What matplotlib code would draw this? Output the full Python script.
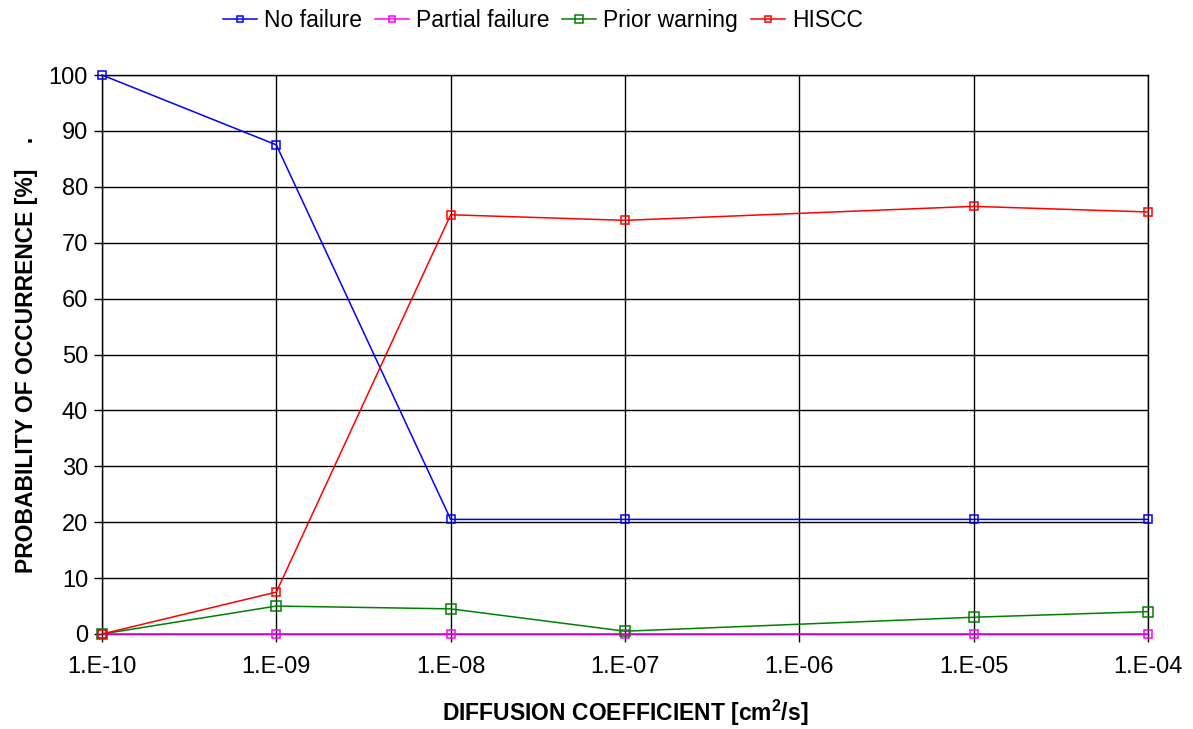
import matplotlib
matplotlib.use("Agg")
import matplotlib.pyplot as plt

plt.rcParams['font.family'] = ['Liberation Sans', 'DejaVu Sans']

x_values = [1e-10, 1e-9, 1e-8, 1e-7, 1e-5, 1e-4]
no_failure = [100, 87.5, 20.5, 20.5, 20.5, 20.5]
partial_failure = [0, 0, 0, 0, 0, 0]
prior_warning = [0, 5, 4.5, 0.5, 3, 4]
hiscc = [0, 7.5, 75, 74, 76.5, 75.5]
x_ticks = [1e-10, 1e-9, 1e-8, 1e-7, 1e-6, 1e-5, 1e-4]
x_tick_labels = ["1.E-10", "1.E-09", "1.E-08", "1.E-07", "1.E-06", "1.E-05", "1.E-04"]
y_ticks = list(range(0, 101, 10))

fig = plt.figure(figsize=(11.93, 7.29), dpi=100)
ax = fig.add_axes([102/1193, 1-634/729, (1148-102)/1193, (634-75)/729])

series = [
    ("No failure", no_failure, "#0000FF", 6),
    ("Partial failure", partial_failure, "#FF00FF", 6),
    ("Prior warning", prior_warning, "#008000", 7.5),
    ("HISCC", hiscc, "#FF0000", 6),
]
for name, vals, col, ms in series:
    ax.plot(x_values, vals, color=col, lw=1.1, marker='s', ms=ms,
            mfc='none', mec=col, mew=1.1, label=name, clip_on=False, zorder=3)

ax.set_xscale('log')
ax.set_xlim(1e-10, 1e-4)
ax.set_ylim(0, 100)
ax.set_xticks(x_ticks)
ax.set_xticklabels(x_tick_labels)
ax.minorticks_off()
ax.set_yticks(y_ticks)
ax.tick_params(axis='both', labelsize=17, direction='out', length=6, width=1, color='black')
ax.tick_params(axis='x', pad=10)
ax.tick_params(axis='y', pad=4)
ax.grid(True, color='black', lw=1)
for s in ax.spines.values():
    s.set_color('black')
    s.set_linewidth(1)

ax.set_xlabel("DIFFUSION COEFFICIENT [cm$^\\mathregular{2}$/s]", fontsize=16.5, fontweight='bold', labelpad=14)
ax.set_ylabel("PROBABILITY OF OCCURRENCE [%]    .", fontsize=16.5, fontweight='bold', labelpad=8)

fig.legend(loc='upper center', bbox_to_anchor=(0.455, 1.016), ncol=4, frameon=False,
           fontsize=16.5, handlelength=1.5, columnspacing=0.55, handletextpad=0.3, markerscale=0.8)

fig.savefig("out.png", dpi=100)
